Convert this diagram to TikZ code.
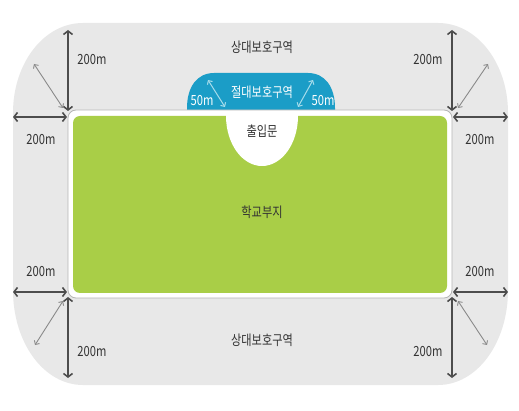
\documentclass[tikz,border=0pt]{standalone}
\usepackage{fontspec}
\setmainfont{Noto Sans CJK KR}[FakeStretch=0.8]
\usetikzlibrary{arrows.meta}
\definecolor{zonegray}{HTML}{E8E8E8}
\definecolor{framegray}{HTML}{B5B5B5}
\definecolor{schoolgreen}{HTML}{A9CE47}
\definecolor{absblue}{HTML}{1B9DC7}
\definecolor{darkarrow}{HTML}{4D4D4D}
\definecolor{lightarrow}{HTML}{8A8A8A}
\definecolor{bluearrow}{HTML}{A6DCEB}
\definecolor{txt}{HTML}{333333}
\tikzset{
  dimarrow/.style={draw=darkarrow, line width=1.6pt,
    {Straight Barb[length=3.5pt,width=9pt]}-{Straight Barb[length=3.5pt,width=9pt]}},
  diagarrow/.style={draw=lightarrow, line width=0.9pt,
    {Straight Barb[length=3pt,width=6pt]}-{Straight Barb[length=3pt,width=6pt]}},
  bluedim/.style={draw=bluearrow, line width=1pt,
    {Straight Barb[length=3pt,width=6pt]}-{Straight Barb[length=3pt,width=6pt]}},
  lbl/.style={font=\fontsize{14}{16}\selectfont, text=txt, inner sep=0pt},
  whitelbl/.style={font=\fontsize{14}{16}\selectfont, text=white, inner sep=0pt},
}
\begin{document}
\begin{tikzpicture}[x=1pt,y=-1pt]
\useasboundingbox (0,0) rectangle (519,411);
\fill[white] (0,0) rectangle (519,411);
% relative protection zone
\fill[zonegray] (83,23) -- (438,23)
  .. controls (477,23) and (508,63) .. (508,113)
  -- (508,290)
  .. controls (508,343) and (477,385) .. (438,385)
  -- (83,385)
  .. controls (44,385) and (13,343) .. (13,290)
  -- (13,113)
  .. controls (13,63) and (44,23) .. (83,23) -- cycle;
% absolute zone
\fill[absblue] (187,112) -- (187,108)
  .. controls (187,87) and (197,73) .. (214,73)
  -- (308,73)
  .. controls (325,73) and (335,87) .. (335,108)
  -- (335,112) -- cycle;
% school site
\filldraw[fill=white, draw=framegray, line width=0.8pt, rounded corners=8pt] (68,110) rectangle (452,298);
\fill[schoolgreen, rounded corners=7pt] (73,116) rectangle (447,293);
% entrance
\fill[white] (226,115) -- (226,116) arc[start angle=180, end angle=0, x radius=36, y radius=50] -- (298,115) -- cycle;

% coordinates
\coordinate (tlv1) at (68,30);  \coordinate (tlv2) at (68,111);
\coordinate (tlh1) at (13,117); \coordinate (tlh2) at (67,117);
\coordinate (tld1) at (34,64);  \coordinate (tld2) at (63,108);
\coordinate (trv1) at (452,30); \coordinate (trv2) at (452,111);
\coordinate (trh1) at (453,117);\coordinate (trh2) at (508,117);
\coordinate (trd1) at (488,64); \coordinate (trd2) at (458,108);
\coordinate (blh1) at (13,292); \coordinate (blh2) at (67,292);
\coordinate (blv1) at (68,297); \coordinate (blv2) at (68,378);
\coordinate (bld1) at (63,301); \coordinate (bld2) at (35,345);
\coordinate (brh1) at (453,292);\coordinate (brh2) at (508,292);
\coordinate (brv1) at (452,297);\coordinate (brv2) at (452,378);
\coordinate (brd1) at (458,301);\coordinate (brd2) at (487,345);
\coordinate (ba1) at (208,80);  \coordinate (ba2) at (225,107);
\coordinate (bb1) at (298,107); \coordinate (bb2) at (313,80);

\draw[diagarrow] (tld1) -- (tld2);
\draw[diagarrow] (trd1) -- (trd2);
\draw[diagarrow] (bld1) -- (bld2);
\draw[diagarrow] (brd1) -- (brd2);
\draw[dimarrow] (tlv1) -- (tlv2);
\draw[dimarrow] (tlh1) -- (tlh2);
\draw[dimarrow] (trv1) -- (trv2);
\draw[dimarrow] (trh1) -- (trh2);
\draw[dimarrow] (blh1) -- (blh2);
\draw[dimarrow] (blv1) -- (blv2);
\draw[dimarrow] (brh1) -- (brh2);
\draw[dimarrow] (brv1) -- (brv2);
\draw[bluedim] (ba1) -- (ba2);
\draw[bluedim] (bb1) -- (bb2);

% labels
\node[lbl] (rt) at (262,47) {상대보호구역};
\node[lbl] (rb) at (262,340) {상대보호구역};
\node[whitelbl] (ab) at (262,92) {절대보호구역};
\node[whitelbl] (a50l) at (202,101) {50m};
\node[whitelbl] (a50r) at (323,101) {50m};
\node[lbl] (gate) at (262,131) {출입문};
\node[lbl] (site) at (262,212) {학교부지};
\node[lbl] (l1) at (92,60) {200m};
\node[lbl] (l2) at (41,140) {200m};
\node[lbl] (l3) at (428,60) {200m};
\node[lbl] (l4) at (480,140) {200m};
\node[lbl] (l5) at (41,272) {200m};
\node[lbl] (l6) at (92,352) {200m};
\node[lbl] (l7) at (480,272) {200m};
\node[lbl] (l8) at (428,352) {200m};
\end{tikzpicture}
\end{document}
